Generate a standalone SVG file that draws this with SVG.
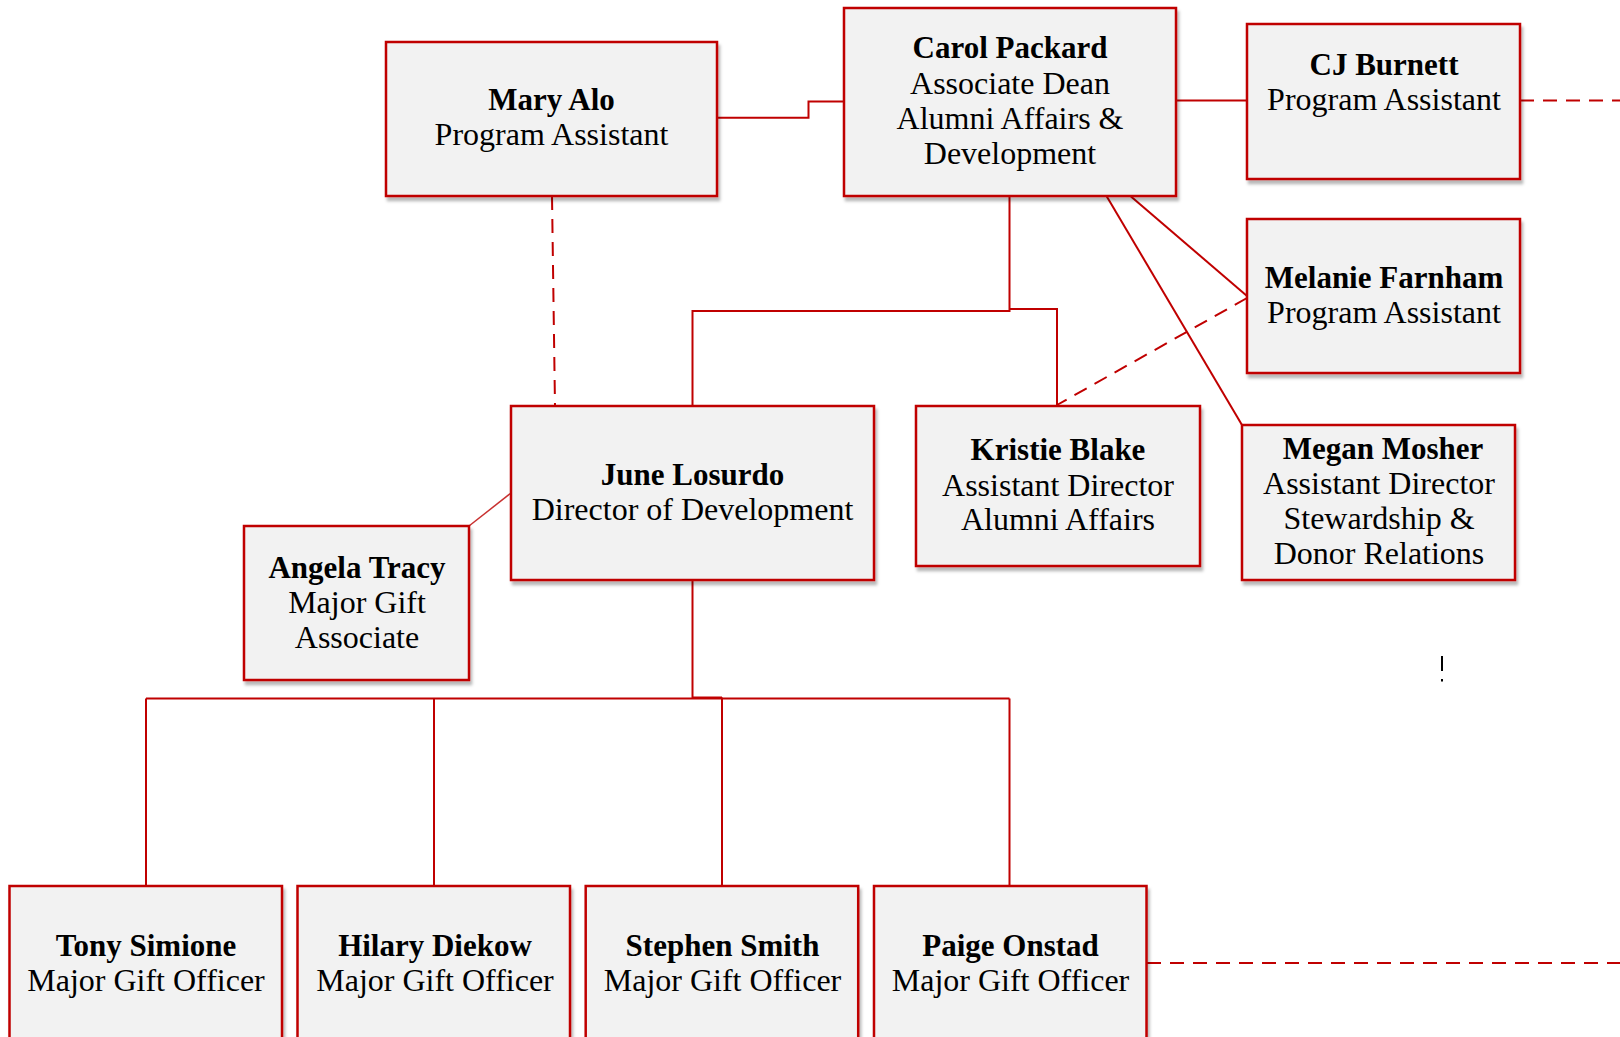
<svg xmlns="http://www.w3.org/2000/svg" width="1620" height="1037" viewBox="0 0 1620 1037">
<defs>
<filter id="sh" x="-5%" y="-5%" width="115%" height="120%">
<feDropShadow dx="2" dy="4" stdDeviation="1.6" flood-color="#000" flood-opacity="0.28"/>
</filter>
<style>
.box{fill:#F2F2F2;stroke:#C00000;stroke-width:2.5;filter:url(#sh)}
.n{font-family:"Liberation Serif","Times New Roman",serif;font-weight:bold;font-size:31px;fill:#000;text-anchor:middle}
.r{font-family:"Liberation Serif","Times New Roman",serif;font-size:32px;fill:#000;text-anchor:middle}
.c{fill:none;stroke:#C00000;stroke-width:2}
.d{fill:none;stroke:#C00000;stroke-width:2;stroke-dasharray:14 9}
.t{fill:none;stroke:#C8302F;stroke-width:1.5}
</style>
</defs>
<rect width="1620" height="1037" fill="#fff"/>
<g id="connectors">
<path class="c" d="M717,117.7 H808.5 V101.5 H844"/>
<path class="c" d="M1176,100.5 H1247"/>
<path class="d" d="M1520,100.5 H1620"/>
<path class="c" d="M1009.5,196 V311 H692.5 V406"/>
<path class="c" d="M1009.5,309 H1057 V406"/>
<path class="c" d="M1130.4,196 L1247,296"/>
<path class="c" d="M1106.5,196 L1242,425"/>
<path class="d" d="M1247,298 L1057,405"/>
<path class="d" d="M552,196 L555,406"/>
<path class="t" d="M511,493 L469,526"/>
<path class="c" d="M692.5,580 V698.5"/>
<path class="c" d="M146,698.5 H1009.5"/>
<path class="c" d="M692.5,697.5 H722"/>
<path class="c" d="M146,698.5 V886 M434,698.5 V886 M722,697.5 V886 M1009.5,698.5 V886"/>
<path class="d" d="M1147,963 H1620"/>
<path d="M1442,656 V671 M1442,679 V681.5" stroke="#000" stroke-width="2" fill="none"/>
</g>
<g id="mary">
<rect class="box" x="386" y="42" width="331" height="154"/>
<text class="n" x="551.5" y="110">Mary Alo</text>
<text class="r" x="551.5" y="145">Program Assistant</text>
</g>
<g id="carol">
<rect class="box" x="844" y="8" width="332" height="188"/>
<text class="n" x="1010" y="58">Carol Packard</text>
<text class="r" x="1010" y="93.5">Associate Dean</text>
<text class="r" x="1010" y="128.5">Alumni Affairs &amp;</text>
<text class="r" x="1010" y="163.5">Development</text>
</g>
<g id="cj">
<rect class="box" x="1247" y="24" width="273" height="155"/>
<text class="n" x="1384" y="75">CJ Burnett</text>
<text class="r" x="1384" y="110">Program Assistant</text>
</g>
<g id="melanie">
<rect class="box" x="1247" y="219" width="273" height="154"/>
<text class="n" x="1384" y="288">Melanie Farnham</text>
<text class="r" x="1384" y="323">Program Assistant</text>
</g>
<g id="june">
<rect class="box" x="511" y="406" width="363" height="174"/>
<text class="n" x="692.5" y="485">June Losurdo</text>
<text class="r" x="692.5" y="520">Director of Development</text>
</g>
<g id="kristie">
<rect class="box" x="916" y="406" width="284" height="160"/>
<text class="n" x="1058" y="460">Kristie Blake</text>
<text class="r" x="1058" y="496">Assistant Director</text>
<text class="r" x="1058" y="530">Alumni Affairs</text>
</g>
<g id="megan">
<rect class="box" x="1242" y="425" width="273" height="155"/>
<text class="n" x="1383" y="458.5">Megan Mosher</text>
<text class="r" x="1379" y="494">Assistant Director</text>
<text class="r" x="1379" y="529">Stewardship &amp;</text>
<text class="r" x="1379" y="564">Donor Relations</text>
</g>
<g id="angela">
<rect class="box" x="244" y="526" width="225" height="154"/>
<text class="n" x="357" y="577.5">Angela Tracy</text>
<text class="r" x="357" y="612.5">Major Gift</text>
<text class="r" x="357" y="647.5">Associate</text>
</g>
<g id="tony">
<rect class="box" x="9.5" y="886" width="272.5" height="170"/>
<text class="n" x="146" y="956">Tony Simione</text>
<text class="r" x="146" y="991">Major Gift Officer</text>
</g>
<g id="hilary">
<rect class="box" x="297.5" y="886" width="272.5" height="170"/>
<text class="n" x="435" y="956">Hilary Diekow</text>
<text class="r" x="435" y="991">Major Gift Officer</text>
</g>
<g id="stephen">
<rect class="box" x="585.7" y="886" width="272.5" height="170"/>
<text class="n" x="722.5" y="956">Stephen Smith</text>
<text class="r" x="722.5" y="991">Major Gift Officer</text>
</g>
<g id="paige">
<rect class="box" x="874" y="886" width="272.5" height="170"/>
<text class="n" x="1010.5" y="956">Paige Onstad</text>
<text class="r" x="1010.5" y="991">Major Gift Officer</text>
</g>
</svg>
